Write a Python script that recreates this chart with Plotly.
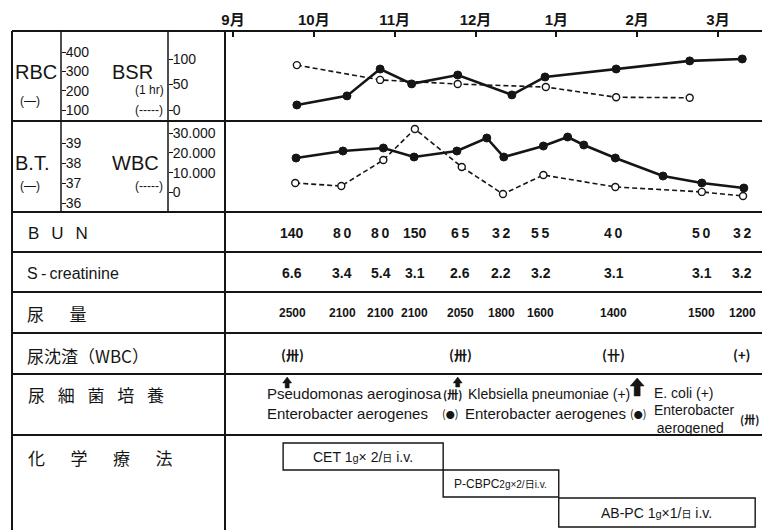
import plotly.graph_objects as go

W, H = 762, 530
def PX(px):
    return px / W
def PY(py):
    return 1 - py / H

# ---------------- data ----------------
months = ["9月", "10月", "11月", "12月", "1月", "2月", "3月"]
month_pos = [0, 1, 2, 3, 4, 5, 6]

rbc_t = [0.79, 1.41, 1.82, 2.21, 2.78, 3.45, 3.86, 4.74, 5.65, 6.30]
rbc = [126, 173, 312, 235, 281, 178, 271, 312, 354, 364]
bsr_t = [0.79, 1.82, 2.78, 3.87, 4.74, 5.65]
bsr = [88, 59, 51, 45, 25, 24]

bt_t = [0.78, 1.36, 1.86, 2.24, 2.77, 3.14, 3.35, 3.84, 4.14, 4.34, 4.73, 5.32, 5.80, 6.32]
bt = [38.25, 38.6, 38.75, 38.3, 38.6, 39.25, 38.3, 38.85, 39.3, 38.9, 38.25, 37.35, 37.0, 36.75]
wbc_t = [0.77, 1.34, 1.86, 2.25, 2.83, 3.34, 3.84, 4.73, 5.80, 6.31]
wbc = [4700, 3200, 16400, 32200, 12900, -900, 8800, 2700, 200, -1900]

lab_t = [0.73, 1.35, 1.83, 2.25, 2.81, 3.32, 3.81, 4.71, 5.80, 6.30]
bun = [140, 80, 80, 150, 65, 32, 55, 40, 50, 32]
screat = [6.6, 3.4, 5.4, 3.1, 2.6, 2.2, 3.2, 3.1, 3.1, 3.2]
urine = [2500, 2100, 2100, 2100, 2050, 1800, 1600, 1400, 1500, 1200]
sediment = ["(卅)", "", "", "", "(卅)", "", "", "(卄)", "", "(+)"]

culture_t = [0.67, 2.78, 5.00]

drugs = ["CET 1<span style='font-size:11px'>g</span>× 2/<span style='font-size:10px'>日</span> i.v.",
         "P-CBPC<span style='font-size:10px'>2g×2/日i.v.</span>",
         "AB-PC 1<span style='font-size:11px'>g</span>×1/<span style='font-size:10px'>日</span> i.v."]
drug_start = [0.62, 2.60, 4.03]
drug_end = [2.60, 4.03, 6.46]

# ---------------- styling ----------------
INK = "#151515"
NARROW = "Liberation Sans Narrow, Arial Narrow, Liberation Sans, Noto Sans CJK JP, sans-serif"
SANS = "Liberation Sans, Arial, Noto Sans CJK JP, sans-serif"
CJK = "Noto Sans CJK JP, sans-serif"

fig = go.Figure()

solid = dict(color=INK, width=2.6)
dashed = dict(color=INK, width=1.6, dash="5px,3px")
mk_f = dict(symbol="circle", size=8, color=INK, line=dict(color=INK, width=1))
mk_o = dict(symbol="circle", size=7, color="white", line=dict(color=INK, width=1.4))

fig.add_trace(go.Scatter(x=bsr_t, y=bsr, xaxis="x", yaxis="y2", mode="lines+markers",
                         line=dashed, marker=mk_o, name="BSR"))
fig.add_trace(go.Scatter(x=rbc_t, y=rbc, xaxis="x", yaxis="y", mode="lines+markers",
                         line=solid, marker=mk_f, name="RBC"))
fig.add_trace(go.Scatter(x=wbc_t, y=wbc, xaxis="x", yaxis="y4", mode="lines+markers",
                         line=dashed, marker=mk_o, name="WBC"))
fig.add_trace(go.Scatter(x=bt_t, y=bt, xaxis="x", yaxis="y3", mode="lines+markers",
                         line=solid, marker=mk_f, name="B.T."))

# ---------------- axes ----------------
px_per_month = (718 - 233) / 6.0
x_left = (225 - 233) / px_per_month
x_right = (762 - 233) / px_per_month

def yrange(v_a, py_a, v_b, py_b, top=31, bottom=121):
    k = (py_a - py_b) / (v_b - v_a)  # px per unit
    vtop = v_a + (py_a - top) / k
    vbot = v_a - (bottom - py_a) / k
    return [vbot, vtop]

tickfont = dict(family=SANS, size=14, color=INK)
common_y = dict(anchor="free", side="right", showgrid=False, zeroline=False, showline=False,
                ticks="outside", ticklen=4, tickwidth=1.3, tickcolor=INK, tickfont=tickfont,
                automargin=False, fixedrange=True, ticklabelstandoff=-3)

fig.update_layout(
    width=W, height=H,
    margin=dict(l=0, r=0, t=0, b=0),
    paper_bgcolor="white", plot_bgcolor="rgba(0,0,0,0)",
    showlegend=False,
    xaxis=dict(domain=[PX(225), 1], range=[x_left, x_right], tickvals=month_pos, ticktext=months,
               side="top", anchor="free", position=PY(31), ticks="inside", ticklen=5, tickwidth=1.5,
               tickcolor=INK, showline=False, showgrid=False, zeroline=False, automargin=False,
               tickfont=dict(family=NARROW, size=15, color=INK, weight="bold"), ticklabelstandoff=3),
    yaxis=dict(domain=[PY(121), PY(31)], range=yrange(100, 110, 400, 52), position=PX(61),
               tickvals=[100, 200, 300, 400], **common_y),
    yaxis2=dict(overlaying="y", range=yrange(0, 110, 100, 59), position=PX(168),
                tickvals=[0, 50, 100], **common_y),
    yaxis3=dict(domain=[PY(212), PY(121)], range=yrange(36, 203, 39, 143, 121, 212), position=PX(61),
                tickvals=[36, 37, 38, 39], **common_y),
    yaxis4=dict(overlaying="y3", range=yrange(0, 192.3, 30000, 133.3, 121, 212), position=PX(168),
                tickvals=[0, 10000, 20000, 30000], ticktext=["0", "10.000", "20.000", "30.000"],
                **common_y),
)

# ---------------- table grid ----------------
shapes = []
def hline(py, x0=12, x1=762, w=2):
    shapes.append(dict(type="line", xref="paper", yref="paper", x0=PX(x0), x1=PX(x1),
                       y0=PY(py), y1=PY(py), line=dict(color=INK, width=w)))
def vline(px, y0, y1, w=2):
    shapes.append(dict(type="line", xref="paper", yref="paper", x0=PX(px), x1=PX(px),
                       y0=PY(y0), y1=PY(y1), line=dict(color=INK, width=w)))

for py in [31, 121, 212, 252, 292, 333, 374, 435]:
    hline(py)
vline(12, 31, 530)
vline(225, 31, 530)
vline(61, 31, 212, 1.5)
vline(168, 31, 212, 1.5)

# therapy boxes
box_y = [(443, 470), (470, 497), (498, 527)]
for s, e, (ya, yb) in zip(drug_start, drug_end, box_y):
    shapes.append(dict(type="rect", xref="x", yref="paper", x0=s, x1=e, y0=PY(yb), y1=PY(ya),
                       line=dict(color=INK, width=1.4), fillcolor="rgba(0,0,0,0)"))

# culture arrows (pixel-sized paths anchored at culture dates)
arrow_geo = [(377, 9, 6, 4, 11), (377, 9, 6, 4, 10), (378, 14, 8, 6, 18)]
for t, (tip, hw, hh, sw, L) in zip(culture_t, arrow_geo):
    a, s = hw / 2, sw / 2
    path = (f"M 0,0 L {a},{-hh} L {s},{-hh} L {s},{-L} L {-s},{-L} "
            f"L {-s},{-hh} L {-a},{-hh} Z")
    shapes.append(dict(type="path", xref="x", yref="paper", xsizemode="pixel", ysizemode="pixel",
                       xanchor=t, yanchor=PY(tip), path=path, fillcolor=INK,
                       line=dict(color=INK, width=0.5)))
fig.update_layout(shapes=shapes)

# ---------------- annotations ----------------
ann = []
def txt(x, y, text, size=14, family=SANS, xanchor="center", xref="paper", weight="normal",
        align="center"):
    ann.append(dict(x=x if xref != "paper" else PX(x), y=PY(y), xref=xref, yref="paper",
                    text=text, showarrow=False, xanchor=xanchor, yanchor="middle", align=align,
                    font=dict(family=family, size=size, color=INK, weight=weight)))

# left headers
txt(13, 72, "RBC", 20, xanchor="left")
txt(30, 101, "(—)", 12)
txt(110, 72, "BSR", 20, xanchor="left")
txt(166, 90, "(1 hr)", 12, xanchor="right")
txt(165, 110, "(-----)", 12, xanchor="right")
txt(13, 163, "B.T.", 20, xanchor="left")
txt(30, 186, "(—)", 12)
txt(110, 163, "WBC", 20, xanchor="left")
txt(165, 186, "(-----)", 12, xanchor="right")

# row labels
txt(26, 233, "B\u2002\u2009U\u2002\u2009N", 17, xanchor="left")
txt(25, 273, "S\u2009-\u2009creatinine", 16, xanchor="left")
txt(25, 313, "尿\u3000\u2002量", 17, family=CJK, xanchor="left")
txt(25, 355, "尿沈渣（WBC）", 17, family=CJK, xanchor="left")
txt(26, 395, "尿\u2002\u2005細\u2002\u2005菌\u2002\u2005培\u2002\u2005養", 17, family=CJK, xanchor="left")
txt(26, 457, "化\u3000\u2002学\u3000\u2002療\u3000\u2002法", 17, family=CJK, xanchor="left")

# table values
for t, b, c, u, s in zip(lab_t, bun, screat, urine, sediment):
    bs = str(b) if b >= 100 else "\u2009".join(str(b))
    txt(t, 233, bs, 14, family=NARROW, xref="x", weight="bold")
    txt(t, 273, f"{c:.1f}", 14, family=NARROW, xref="x", weight="bold")
    txt(t, 313, str(u), 12, family=NARROW, xref="x", weight="bold")
    if s:
        txt(t, 354, s, 13, family=CJK, xref="x", weight="bold")

# culture row
BF = 15
txt(265, 394, "Pseudomonas aeroginosa", BF, xanchor="left")
txt(452, 394, "(卅)", 11, family=CJK, weight="bold")
txt(466, 394, "Klebsiella pneumoniae (+)", 14, xanchor="left")
txt(265, 413, "Enterobacter aerogenes", BF, xanchor="left")
txt(450, 413, "(<span style='font-size:9px'>●</span>)", 11, family=CJK)
txt(463, 413, "Enterobacter aerogenes", BF, xanchor="left")
txt(638, 413, "(<span style='font-size:9px'>●</span>)", 11, family=CJK)
txt(652, 393, "E. coli (+)", 14, xanchor="left")
txt(652, 419, "Enterobacter<br>\u2009aerogened", 14, xanchor="left", align="left")
txt(761, 419, "(卅)", 11, family=CJK, xanchor="right", weight="bold")

# therapy labels
drug_size = [14, 12, 14]
for d, s, e, (ya, yb), fs in zip(drugs, drug_start, drug_end, box_y, drug_size):
    ann.append(dict(x=(s + e) / 2, y=PY((ya + yb) / 2), xref="x", yref="paper", text=d,
                    xanchor="center", yanchor="middle",
                    showarrow=False, font=dict(family=SANS, size=fs, color=INK)))

fig.update_layout(annotations=ann)

fig.write_html("out.html", config={"displayModeBar": False},
               post_script="document.body.style.margin='0px';")
